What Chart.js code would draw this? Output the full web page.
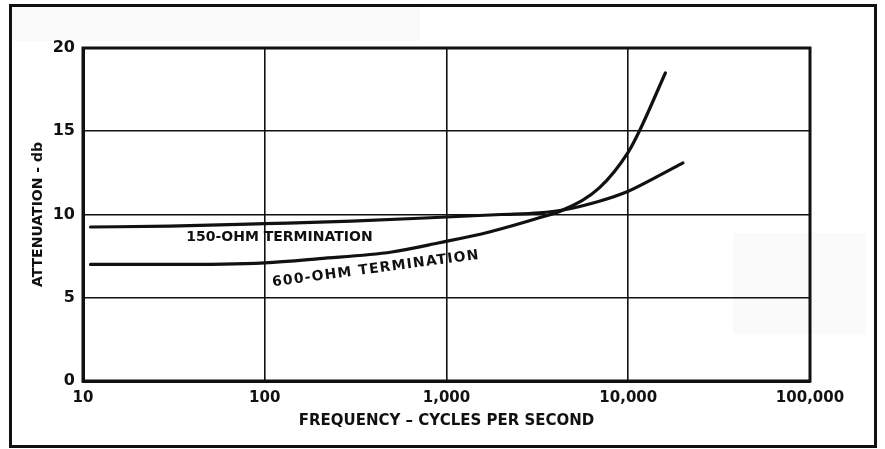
<!DOCTYPE html>
<html>
<head>
<meta charset="utf-8">
<script src="https://cdn.jsdelivr.net/npm/chart.js@4.4.1/dist/chart.umd.min.js"></script>
<style>
  html, body { margin: 0; padding: 0; background: #fff; }
  #wrap { width: 885px; height: 449px; position: relative; }
</style>
</head>
<body>
<div id="wrap"><canvas id="c" width="885" height="449"></canvas></div>
<script>
// Attenuation vs frequency for two terminations
const freq150 = [11, 30, 100, 300, 1000, 2000, 3240, 4370, 6930, 10000, 14000, 20000];
const atten150 = [9.25, 9.3, 9.45, 9.6, 9.85, 10.0, 10.1, 10.27, 10.8, 11.4, 12.2, 13.1];

const freq600 = [11, 30, 100, 200, 500, 912, 1720, 3240, 4370, 6930, 10000, 11500, 16000];
const atten600 = [7.0, 7.0, 7.1, 7.35, 7.75, 8.3, 8.95, 9.8, 10.27, 11.6, 13.75, 15.0, 18.5];

const xTicks = [10, 100, 1000, 10000, 100000];
const yTicks = [0, 5, 10, 15, 20];

const seriesNames = ['150-OHM TERMINATION', '600-OHM TERMINATION'];
// label anchor (frequency, attenuation), angle in degrees and letter spacing
const labelFreq = [37, 110];
const labelAtten = [8.6, 5.9];
const labelAngle = [0, -7.6];
const labelSpacing = ['0px', '1.2px'];

const xTitle = 'FREQUENCY – CYCLES PER SECOND';
const yTitle = 'ATTENUATION - db';

const INK = '#111';
const FONT = '"DejaVu Sans", sans-serif';

const toPoints = (xs, ys) => xs.map((x, i) => ({ x, y: ys[i] }));

const frame = {
  id: 'frame',
  beforeDraw(chart) {
    const ctx = chart.ctx;
    ctx.save();
    ctx.fillStyle = '#fff';
    ctx.fillRect(0, 0, chart.width, chart.height);
    // faint paper stains
    ctx.fillStyle = 'rgba(0,0,0,0.025)';
    ctx.fillRect(12, 7, 408, 34);
    ctx.fillStyle = 'rgba(0,0,0,0.02)';
    ctx.fillRect(733, 233, 133, 101);
    ctx.strokeStyle = INK;
    ctx.lineWidth = 3;
    ctx.strokeRect(10.5, 5.5, 865, 441);
    ctx.restore();
  },
  afterDatasetsDraw(chart) {
    const ctx = chart.ctx;
    const xs = chart.scales.x, ys = chart.scales.y;
    ctx.save();
    ctx.fillStyle = INK;
    ctx.font = 'bold 14px ' + FONT;
    ctx.textBaseline = 'middle';
    ctx.textAlign = 'left';
    seriesNames.forEach((name, i) => {
      const px = xs.getPixelForValue(labelFreq[i]);
      const py = ys.getPixelForValue(labelAtten[i]);
      ctx.save();
      ctx.letterSpacing = labelSpacing[i];
      ctx.translate(px, py);
      ctx.rotate(labelAngle[i] * Math.PI / 180);
      ctx.fillText(name, 0, 0);
      ctx.restore();
    });
    // heavy frame round the plot area
    const a = chart.chartArea;
    ctx.strokeStyle = INK;
    ctx.lineWidth = 3;
    ctx.strokeRect(a.left, a.top, a.right - a.left, a.bottom - a.top);
    ctx.restore();
  }
};

new Chart(document.getElementById('c'), {
  type: 'line',
  data: {
    datasets: [
      { label: seriesNames[0], data: toPoints(freq150, atten150) },
      { label: seriesNames[1], data: toPoints(freq600, atten600) }
    ]
  },
  options: {
    responsive: false,
    animation: false,
    devicePixelRatio: 1,
    layout: { padding: { left: 0, top: 48, right: 75, bottom: 0 } },
    elements: {
      line: { borderColor: INK, borderWidth: 3.2, cubicInterpolationMode: 'monotone', borderCapStyle: 'round' },
      point: { radius: 0 }
    },
    plugins: { legend: { display: false }, tooltip: { enabled: false } },
    scales: {
      x: {
        type: 'logarithmic',
        min: 10, max: 100000,
        afterBuildTicks: s => { s.ticks = xTicks.map(v => ({ value: v })); },
        afterFit: s => { s.height = 68; },
        grid: { color: INK, lineWidth: 1.6, drawTicks: false },
        border: { color: INK, width: 3 },
        ticks: {
          color: INK, padding: 8, maxRotation: 0,
          font: { family: FONT, size: 15, weight: 'bold' },
          callback: v => Number(v).toLocaleString('en-US')
        },
        title: {
          display: true, text: xTitle, color: INK,
          font: { family: FONT, size: 15, weight: 'bold' },
          padding: { top: 0, bottom: 19 }
        }
      },
      y: {
        min: 0, max: 20,
        afterBuildTicks: s => { s.ticks = yTicks.map(v => ({ value: v })); },
        afterFit: s => { s.width = 83; },
        grid: { color: INK, lineWidth: 1.6, drawTicks: false },
        border: { color: INK, width: 3 },
        ticks: {
          color: INK, padding: 8,
          font: { family: FONT, size: 16, weight: 'bold' }
        },
        title: {
          display: true, text: yTitle, color: INK,
          font: { family: FONT, size: 14, weight: 'bold' },
          padding: { top: 30, bottom: 0 }
        }
      }
    }
  },
  plugins: [frame]
});
</script>
</body>
</html>
